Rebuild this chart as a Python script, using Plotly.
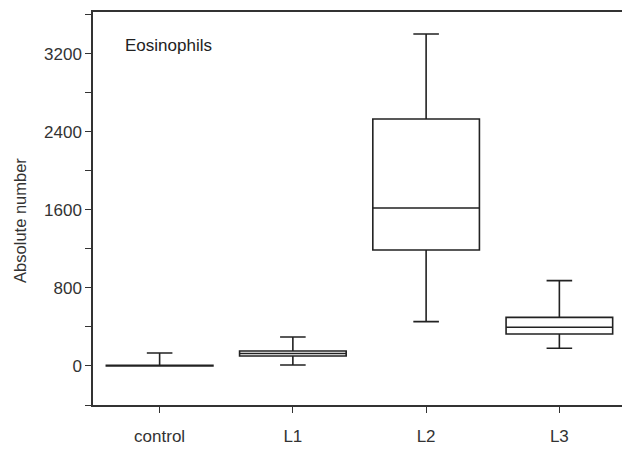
import plotly.graph_objects as go

# Eosinophil counts per group (box statistics)
groups = ["control", "L1", "L2", "L3"]
lower_whisker = [0, 10, 455, 182]
q1_values = [0, 103, 1190, 328]
medians = [0, 128, 1620, 397]
q3_values = [8, 154, 2533, 499]
upper_whisker = [133, 297, 3405, 875]

y_ticks = [0, 800, 1600, 2400, 3200]

fig = go.Figure()
fig.add_trace(go.Box(
    x=groups,
    q1=q1_values,
    median=medians,
    q3=q3_values,
    lowerfence=lower_whisker,
    upperfence=upper_whisker,
    width=0.8,
    fillcolor="white",
    line=dict(color="#222222", width=1.6),
    whiskerwidth=0.24,
    boxpoints=False,
    showlegend=False,
))

font_main = dict(family="Liberation Sans, Arial, sans-serif", size=17, color="#333333")

fig.update_layout(
    width=622,
    height=449,
    margin=dict(l=93, r=0, t=12, b=44),
    paper_bgcolor="white",
    plot_bgcolor="white",
    font=font_main,
    xaxis=dict(
        range=[-0.5, 3.47],
        showline=True,
        linecolor="#333333",
        linewidth=1.5,
        mirror=True,
        ticks="outside",
        ticklen=6,
        tickcolor="#333333",
        ticklabelstandoff=9,
        showgrid=False,
        zeroline=False,
        tickfont=font_main,
    ),
    yaxis=dict(
        range=[-400, 3630],
        tickvals=y_ticks,
        showline=True,
        linecolor="#333333",
        linewidth=1.5,
        ticks="outside",
        ticklen=6,
        tickcolor="#333333",
        showgrid=False,
        zeroline=False,
        tickfont=font_main,
        minor=dict(dtick=400, tick0=0, ticks="outside", ticklen=6, tickcolor="#333333", showgrid=False),
    ),
    annotations=[
        dict(text="Absolute number", xref="paper", yref="paper", x=-0.138, y=0.471,
             textangle=-90, showarrow=False,
             font=dict(family="Liberation Sans, Arial, sans-serif", size=16.5, color="#333333"),
             xanchor="center", yanchor="middle"),
        dict(text="Eosinophils", xref="paper", yref="paper", x=0.056, y=0.915,
             showarrow=False, font=dict(family="Liberation Sans, Arial, sans-serif", size=17, color="#222222"),
             xanchor="left", yanchor="middle"),
    ],
)

fig.write_html("out.html")
